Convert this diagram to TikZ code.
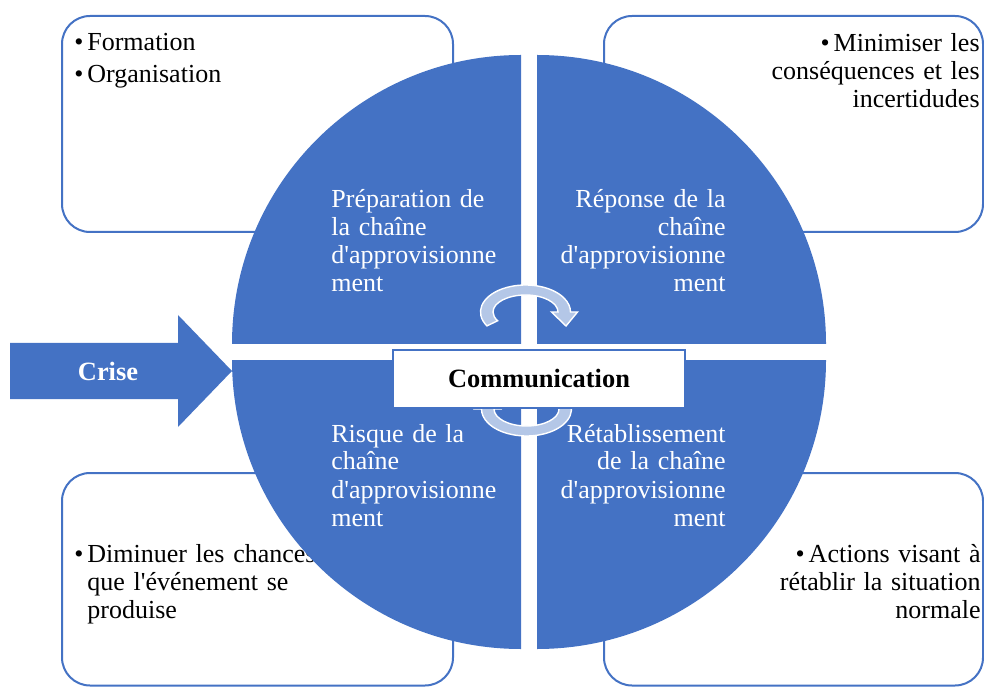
\documentclass[tikz,border=0pt]{standalone}
\usepackage{fontspec}
\setmainfont{Liberation Serif}[Ligatures=TeXOff]
\usepackage{tikz}
\usetikzlibrary{positioning}
\definecolor{crisblue}{RGB}{68,114,196}
\definecolor{cyclelight}{RGB}{180,199,231}
\newcommand{\puce}{\textbullet\hspace{2pt}}

\begin{document}
\begin{tikzpicture}[
    x=0.5pt, y=0.5pt,
    txt/.style={font=\fontsize{13}{14}\selectfont, inner sep=0},
    boite/.style={draw=crisblue, line width=1pt, fill=white, rounded corners=14pt},
    quadrant/.style={fill=crisblue},
    quadtext/.style={txt, text=white, text width=100pt},
    boxtext/.style={txt, text=black, text width=130pt},
    cyclearrow/.style={fill=cyclelight, draw=white, line width=0.7pt},
    commbox/.style={draw=crisblue, line width=0.6pt, fill=white, inner sep=0,
        minimum width=146pt, minimum height=29pt, font=\fontsize{13.2}{14}\selectfont\bfseries}]
\useasboundingbox (0,0) rectangle (984,686);
\clip (0,0) rectangle (984,686);

% corner boxes
\path[boite] (62,454) rectangle (453,670);
\path[boite] (604,454) rectangle (983,670);
\path[boite] (62,0.5) rectangle (453,213);
\path[boite] (604,0.5) rectangle (983,213);

\node[boxtext, align=left, anchor=base west] (formation) at (87,635) {\leavevmode\llap{\puce}Formation\\[2pt]\leavevmode\llap{\puce}Organisation};
\node[boxtext, align=right, anchor=base east] (minimiser) at (980,634) {\puce Minimiser les\\conséquences et les\\incertidudes};
\node[boxtext, align=left, anchor=base west] (diminuer) at (87,124) {\leavevmode\llap{\puce}Diminuer les chances\\que l'événement se\\produise};
\node[boxtext, align=right, anchor=base east] (actions) at (981,124) {\puce Actions visant à\\rétablir la situation\\normale};

% four quarter discs
\path[quadrant] (521,342) -- ++(0,289) arc[start angle=90, end angle=180, radius=289] -- cycle;
\path[quadrant] (537,342) -- ++(289,0) arc[start angle=0, end angle=90, radius=289] -- cycle;
\path[quadrant] (521,326) -- ++(-289,0) arc[start angle=180, end angle=270, radius=289] -- cycle;
\path[quadrant] (537,326) -- ++(0,-289) arc[start angle=270, end angle=360, radius=289] -- cycle;

\node[quadtext, align=left, anchor=base west] (preparation) at (331,478) {Préparation de\\la chaîne\\d'approvisionne\\ment};
\node[quadtext, align=right, anchor=base east] (reponse) at (726,478) {Réponse de la\\chaîne\\d'approvisionne\\ment};
\node[quadtext, align=left, anchor=base west] (risque) at (331,244) {Risque de la\\chaîne\\d'approvisionne\\ment};
\node[quadtext, align=right, anchor=base east] (retablissement) at (726,244) {Rétablissement\\de la chaîne\\d'approvisionne\\ment};

% circular arrows
\path[cyclearrow, shift={(525.5,374)}] (211:45 and 27) arc[start angle=211, end angle=0, x radius=45, y radius=27]
    -- (52,0) -- (40.5,-14) -- (26,0) -- (32.5,0) arc[start angle=0, end angle=211, x radius=32.5, y radius=17] -- cycle;
\path[cyclearrow, shift={(526.5,277)}, rotate=180] (211:45 and 27) arc[start angle=211, end angle=0, x radius=45, y radius=27]
    -- (52,0) -- (40.5,-14) -- (26,0) -- (32.5,0) arc[start angle=0, end angle=211, x radius=32.5, y radius=17] -- cycle;

\node[commbox] (communication) at (539,307) {Communication};

% entry arrow
\path[fill=crisblue] (10,343) -- (178,343) -- (178,371) -- (232,315) -- (178,259) -- (178,287) -- (10,287) -- cycle;
\node[txt, text=white, font=\fontsize{13.2}{14}\selectfont\bfseries] (crise) at (108,315) {Crise};

\end{tikzpicture}
\end{document}
